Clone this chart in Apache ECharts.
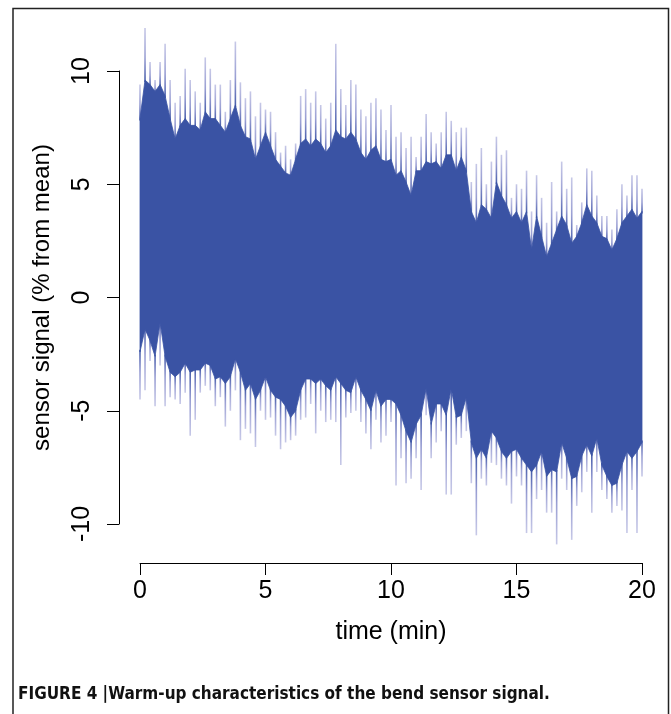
<!DOCTYPE html>
<html>
<head>
<meta charset="utf-8">
<script src="https://cdn.jsdelivr.net/npm/echarts@6/dist/echarts.min.js"></script>
<style>
html,body{margin:0;padding:0;background:#fff;}
#chart{width:671px;height:714px;}
</style>
</head>
<body>
<div id="chart"></div>
<script>
// time bins (min)
const times = [0,0.2,0.4,0.6,0.8,1,1.2,1.4,1.6,1.8,2,2.2,2.4,2.6,2.8,3,3.2,3.4,3.6,3.8,4,4.2,4.4,4.6,4.8,5,5.2,5.4,5.6,5.8,6,6.2,6.4,6.6,6.8,7,7.2,7.4,7.6,7.8,8,8.2,8.4,8.6,8.8,9,9.2,9.4,9.6,9.8,10,10.2,10.4,10.6,10.8,11,11.2,11.4,11.6,11.8,12,12.2,12.4,12.6,12.8,13,13.2,13.4,13.6,13.8,14,14.2,14.4,14.6,14.8,15,15.2,15.4,15.6,15.8,16,16.2,16.4,16.6,16.8,17,17.2,17.4,17.6,17.8,18,18.2,18.4,18.6,18.8,19,19.2,19.4,19.6,19.8,20];
// dense core of the signal: upper / lower edge (% from mean)
const coreHi = [7.9,9.6,9.4,9.1,9.4,8.9,7.9,7.0,7.6,7.9,7.6,7.6,7.4,8.2,7.9,7.9,7.6,7.3,7.9,8.5,7.6,7.1,7.0,6.1,6.7,7.3,6.7,6.1,5.8,5.5,5.4,6.1,6.8,7.0,6.7,7.0,6.8,6.4,6.7,7.4,7.1,7.0,7.3,7.0,6.4,6.1,6.5,6.7,6.1,6.0,6.1,
  5.4,5.6,5.1,4.5,5.6,5.6,6.0,5.9,6.0,5.7,6.3,6.3,5.6,6.2,5.6,3.8,3.3,4.1,3.9,3.5,5.1,4.5,4.1,3.5,3.8,3.3,3.8,2.1,3.6,2.7,1.8,2.4,3.0,3.6,3.2,2.4,2.7,3.3,4.1,3.6,3.3,2.7,2.6,2.1,2.6,3.3,3.6,3.9,3.5,3.8];
const coreLo = [-2.4,-1.4,-1.9,-2.6,-1.1,-2.6,-3.3,-3.5,-3.3,-2.9,-3.3,-3.2,-3.2,-2.9,-3.0,-3.6,-3.5,-3.8,-3.5,-2.7,-3.3,-4.1,-3.8,-4.5,-4.1,-3.5,-4.1,-4.4,-4.5,-4.8,-5.3,-5.0,-4.1,-3.6,-3.6,-3.8,-3.6,-3.9,-4.1,-3.5,-3.8,-4.1,-4.2,-3.5,-4.1,-4.5,-5.0,-4.1,-4.8,-4.5,-4.5,
  -4.7,-5.2,-5.9,-6.4,-5.6,-5.2,-4.0,-5.6,-4.7,-4.7,-5.2,-4.0,-5.3,-5.2,-4.4,-6.4,-7.1,-6.7,-7.1,-5.9,-6.2,-6.8,-7.1,-6.8,-6.7,-7.1,-7.4,-7.7,-7.4,-6.8,-7.9,-7.6,-7.7,-6.4,-7.1,-8.0,-7.9,-7.0,-6.5,-7.0,-6.2,-7.4,-7.9,-8.3,-8.2,-7.4,-6.8,-7.1,-6.8,-6.4];
// extreme spikes: max / min in each bin
const spikeHi = [9.4,11.9,10.4,9.6,10.4,11.2,9.6,8.6,8.9,10.1,9.6,9.1,8.6,10.6,10.1,9.4,9.4,8.2,9.6,11.3,9.5,8.8,9.1,8.0,8.6,8.3,8.2,7.3,6.4,6.7,6.1,6.8,8.9,9.2,8.6,9.1,8.5,7.9,8.6,11.2,9.2,8.5,9.6,9.4,8.3,8.0,8.6,8.8,8.3,7.4,8.5,
  7.1,7.3,6.6,7.1,6.2,7.1,8.1,7.3,6.8,7.3,8.2,7.8,7.3,7.5,7.5,5.1,5.9,6.6,5.0,6.0,7.1,6.3,6.5,4.4,5.0,4.8,5.6,3.8,5.4,4.4,3.3,5.1,3.8,6.0,4.8,5.3,3.2,4.2,5.7,5.6,4.5,3.6,3.6,3.0,3.9,5.0,4.5,5.4,5.4,4.8];
const spikeLo = [-4.5,-4.1,-2.8,-4.8,-3.0,-4.8,-4.4,-4.5,-4.7,-4.2,-6.1,-5.4,-4.2,-3.9,-4.1,-4.8,-4.4,-5.7,-5.0,-4.1,-6.3,-5.8,-6.0,-6.6,-5.0,-5.4,-5.3,-6.1,-6.7,-6.4,-6.3,-6.1,-5.4,-5.3,-4.7,-6.0,-5.0,-5.5,-5.4,-5.5,-7.4,-5.3,-5.1,-5.0,-5.5,-6.0,-6.7,-5.4,-6.4,-6.1,-5.5,
  -8.3,-7.1,-8.2,-8.0,-7.1,-8.5,-5.2,-7.1,-6.4,-5.9,-8.7,-8.7,-6.5,-6.2,-5.9,-8.2,-10.5,-8.0,-8.3,-7.3,-7.4,-8.0,-8.3,-9.1,-7.9,-8.3,-10.4,-10.4,-8.9,-8.5,-9.5,-9.5,-10.9,-8.0,-8.5,-10.7,-9.2,-8.6,-7.7,-9.5,-7.7,-8.5,-8.9,-9.5,-9.2,-9.4,-10.4,-8.5,-10.4,-7.9];
const xTicks = [0,5,10,15,20];
const yTicks = [-10,-5,0,5,10];

const FONT = 'Liberation Sans, Arial, sans-serif';
const CORE = '#3A53A4';
const chart = echarts.init(document.getElementById('chart'), null, {renderer:'canvas'});

// core band: one polygon through the upper edge, back along the lower edge
function coreItem(params, api) {
  const pts = [];
  for (let i = 0; i < times.length; i++) pts.push(api.coord([times[i], coreHi[i]]));
  for (let i = times.length - 1; i >= 0; i--) pts.push(api.coord([times[i], coreLo[i]]));
  return {
    type: 'polygon',
    shape: {points: pts},
    style: {fill: CORE, stroke: CORE, lineWidth: 0.8, lineJoin: 'miter'}
  };
}

// spikes: thin strokes from the core edge out to the extreme value
function spikeItem(params, api) {
  const t = api.value(0);
  const pHi = api.coord([t, api.value(1)]);
  const cHi = api.coord([t, api.value(2)]);
  const cLo = api.coord([t, api.value(3)]);
  const pLo = api.coord([t, api.value(4)]);
  const w = 1.6;
  const up = new echarts.graphic.LinearGradient(0, 0, 0, 1, [
    {offset: 0, color: 'rgba(80,85,180,0.32)'},
    {offset: 0.55, color: 'rgba(70,80,175,0.55)'},
    {offset: 1, color: 'rgba(58,83,164,0.95)'}
  ]);
  const down = new echarts.graphic.LinearGradient(0, 0, 0, 1, [
    {offset: 0, color: 'rgba(58,83,164,0.95)'},
    {offset: 0.45, color: 'rgba(70,80,175,0.55)'},
    {offset: 1, color: 'rgba(80,85,180,0.32)'}
  ]);
  return {
    type: 'group',
    children: [
      {type: 'rect', shape: {x: pHi[0] - w / 2, y: pHi[1], width: w, height: cHi[1] - pHi[1] + 2}, style: {fill: up}},
      {type: 'rect', shape: {x: pLo[0] - w / 2, y: cLo[1] - 2, width: w, height: pLo[1] - cLo[1] + 2}, style: {fill: down}}
    ]
  };
}

const spikeData = times.map((t, i) => [t, spikeHi[i], coreHi[i], coreLo[i], spikeLo[i]]);

const option = {
  animation: false,
  backgroundColor: '#fff',
  grid: {left: 140, top: 71, width: 502, height: 453, containLabel: false},
  xAxis: {
    type: 'value', min: xTicks[0], max: xTicks[xTicks.length-1], interval: 5,
    position: 'bottom', offset: 39,
    axisLine: {show: true, onZero: false, lineStyle: {color: '#000', width: 1}},
    axisTick: {show: true, length: 12, lineStyle: {color: '#000', width: 1}},
    splitLine: {show: false},
    axisLabel: {color: '#000', fontSize: 25, fontFamily: FONT, margin: 16},
    name: 'time (min)', nameLocation: 'middle', nameGap: 57,
    nameTextStyle: {color: '#000', fontSize: 25, fontFamily: FONT}
  },
  yAxis: {
    type: 'value', min: yTicks[0], max: yTicks[yTicks.length-1], interval: 5,
    position: 'left', offset: 21,
    axisLine: {show: true, onZero: false, lineStyle: {color: '#000', width: 1}},
    axisTick: {show: true, length: 12, lineStyle: {color: '#000', width: 1}},
    splitLine: {show: false},
    axisLabel: {color: '#000', fontSize: 25, fontFamily: FONT, rotate: 90, margin: 24},
    name: 'sensor signal (% from mean)', nameLocation: 'middle', nameGap: 65,
    nameTextStyle: {color: '#000', fontSize: 24, fontFamily: FONT}
  },
  series: [
    {type: 'custom', clip: false, silent: true, renderItem: spikeItem, data: spikeData, z: 2},
    {type: 'custom', clip: false, silent: true, renderItem: coreItem, data: [0], z: 3}
  ],
  graphic: [
    {type: 'polyline', shape: {points: [[13, 714], [13, 8.5], [668.5, 8.5], [668.5, 714]]},
     style: {stroke: '#222', lineWidth: 1.5, fill: null}, z: 10},
    {type: 'text', left: 18, top: 686,
     style: {text: 'FIGURE 4 |Warm-up characteristics of the bend sensor signal.',
             fontSize: 17, fontWeight: 'bold', fill: '#111',
             fontFamily: 'Liberation Sans Narrow, DejaVu Sans Condensed, Arial Narrow, sans-serif'}}
  ]
};
chart.setOption(option);
</script>
</body>
</html>
